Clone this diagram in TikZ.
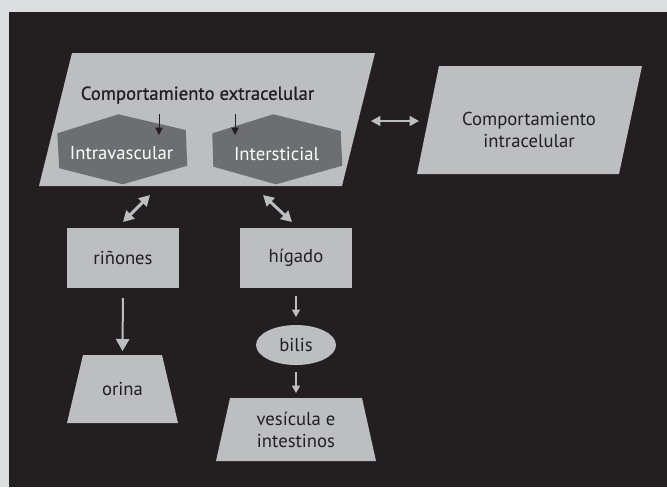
\documentclass[tikz,border=0pt]{standalone}
\usepackage{fontspec}
\setmainfont{PT Sans}
\newfontface\titleface{PT Sans}[FakeBold=0.8]
\usepackage{tikz}
\usetikzlibrary{shapes,arrows,positioning,calc,arrows.meta}
\definecolor{framegrey}{HTML}{DCDDDE}
\definecolor{bgdark}{HTML}{231F20}
\definecolor{boxgrey}{HTML}{BCBEC0}
\definecolor{hexgrey}{HTML}{6D6E71}

\begin{document}
\begin{tikzpicture}[x=0.75pt,y=-0.75pt,
    every node/.style={font=\fontsize{14}{16.5}\selectfont, text=bgdark, inner sep=0pt, outer sep=0pt},
    rectbox/.style={fill=boxgrey, rectangle, minimum width=84pt, minimum height=45pt},
    hextext/.style={text=white},
    dblthin/.style={draw=boxgrey, line width=1.1pt, {Triangle[length=7pt,width=7.5pt]}-{Triangle[length=7pt,width=7.5pt]}},
    dblthick/.style={draw=boxgrey, line width=2.2pt, {Triangle[length=8pt,width=8.5pt]}-{Triangle[length=8pt,width=8.5pt]}},
    downarrow/.style={draw=boxgrey, line width=1.5pt, -{Triangle[length=9pt,width=10pt]}},
    smallarrow/.style={draw=boxgrey, line width=1.1pt, -{Triangle[length=5.5pt,width=6pt]}},
    blkarrow/.style={draw=bgdark, line width=0.75pt, -{Triangle[length=5.5pt,width=5.5pt]}}
]
    % Frame and background
    \fill[framegrey] (0,0) rectangle (667,487);
    \fill[bgdark] (9,12) rectangle (667,487);
    \useasboundingbox (0,0) rectangle (667,487);

    % Slanted shapes
    \fill[boxgrey] (72,53) -- (375,53) -- (342,186) -- (39,186) -- cycle;
    \fill[boxgrey] (439,66) -- (642,66) -- (619,174) -- (417,174) -- cycle;
    \fill[boxgrey] (83,355) -- (162,355) -- (178,423) -- (67,423) -- cycle;
    \fill[boxgrey] (230,398) -- (362,398) -- (376,461) -- (216,461) -- cycle;

    % Extracellular block
    \node[font=\titleface\fontsize{14}{16.5}\selectfont] (extratitle) at (197.5,95) {Comportamiento extracelular};

    % Compartments
    \fill[hexgrey] (118.3,114.3) -- (185.7,130) -- (187.3,165.7) -- (122.7,184.3)
        -- (59.3,168.3) -- (57.3,133.3) -- cycle;
    \fill[hexgrey] (273.3,114.3) -- (340.7,131) -- (342.3,165.7) -- (276,184.3)
        -- (213.3,166.7) -- (212.3,133.3) -- cycle;
    \node[hextext] (intravasc) at (121.5,153.5) {Intravascular};
    \node[hextext] (interst) at (276.5,153.5) {Intersticial};
    \coordinate (vascin) at (159,114);
    \coordinate (vasctip) at (159,135);
    \coordinate (interin) at (235,114);
    \coordinate (intertip) at (235,135);
    \draw[blkarrow] (vascin) -- (vasctip);
    \draw[blkarrow] (interin) -- (intertip);

    % Intracellular block
    \node[align=center] (intra) at (529,130) {Comportamiento\\intracelular};
    \coordinate (extraR) at (371,121);
    \coordinate (intraL) at (419,121);
    \draw[dblthin] (extraR) -- (intraL);

    % Organs
    \node[rectbox] (kidneys) at (123,258) {riñones};
    \node[rectbox] (liver) at (296,258) {hígado};
    \draw[dblthick] ($(kidneys.north)+(0,-6)$) -- ++(27,-27);
    \draw[dblthick] ($(liver.north)+(-4,-6)$) -- ++(-29,-27);

    % Excretion
    \node[minimum width=83.25pt, minimum height=51pt] (urine) at (122.5,389) {orina};
    \draw[downarrow, shorten <=7.5pt, shorten >=3pt] (kidneys.south) -- (urine.north);
    \node[fill=boxgrey, ellipse, minimum width=60pt, minimum height=30pt] (bile) at (296,345) {bilis};
    \draw[smallarrow, shorten <=6pt, shorten >=6pt] (liver.south) -- (bile.north);
    \node[align=center, minimum width=120pt, minimum height=47.25pt] (gut) at (296,429.5) {vesícula e\\intestinos};
    \draw[smallarrow, shorten <=5.25pt, shorten >=3.75pt] (bile.south) -- (gut.north);
\end{tikzpicture}
\end{document}
